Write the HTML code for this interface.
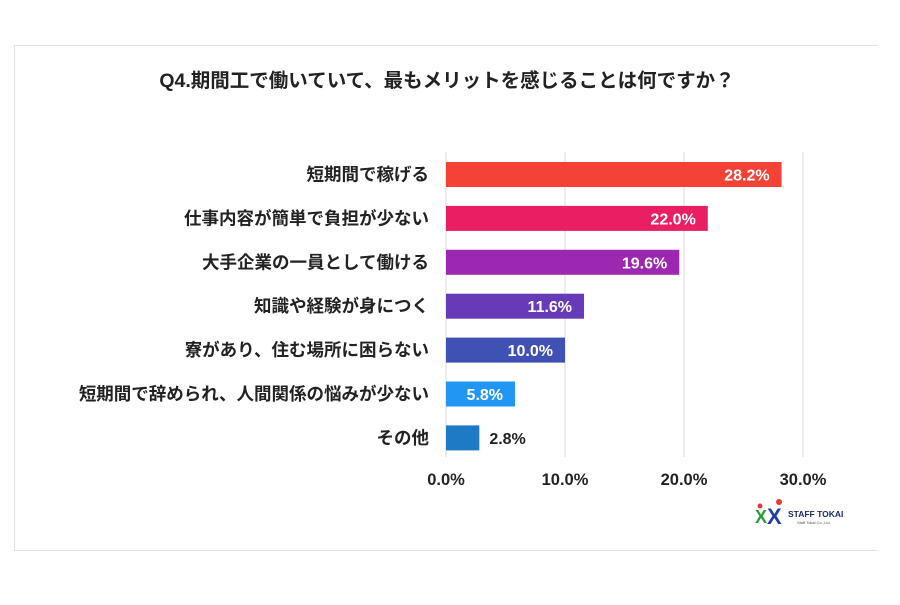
<!DOCTYPE html>
<html><head><meta charset="utf-8"><style>
body{margin:0;background:#fff;width:900px;height:600px;overflow:hidden}
svg{font-family:"Liberation Sans","Noto Sans CJK JP",sans-serif}
</style></head><body>
<svg id="c" width="900" height="600">
<path d="M878 45.5 H14.5 V550.5 H878" fill="#fff" stroke="#e2e2e2"/>
<text x="447" y="87" text-anchor="middle" font-size="19.5" font-weight="bold" fill="#222">Q4.期間工で働いていて、最もメリットを感じることは何ですか？</text>
<g id="grid"></g><g id="bars"></g><g id="ticks"></g>
<g>
<text x="755" y="523" font-size="18" font-weight="bold" fill="#2a9d3a">X</text>
<text x="767" y="524" font-size="22" font-weight="bold" fill="#1f3fa8">X</text>
<circle cx="760" cy="506" r="2.5" fill="#e53935"/><circle cx="779" cy="502" r="3" fill="#e53935"/>
<text x="788" y="517" font-size="8.5" font-weight="bold" fill="#1a2a6c">STAFF TOKAI</text>
<text x="797" y="524" font-size="4" fill="#555">Staff Tokai Co.,Ltd.</text>
</g>
</svg>
<script>
const categories=["短期間で稼げる","仕事内容が簡単で負担が少ない","大手企業の一員として働ける","知識や経験が身につく","寮があり、住む場所に困らない","短期間で辞められ、人間関係の悩みが少ない","その他"];
const values=[28.2,22.0,19.6,11.6,10.0,5.8,2.8];
const colors=["#f44336","#e91e63","#9c27b0","#673ab7","#3f51b5","#2196f3","#1e7ac4"];
const tickValues=[0,10,20,30];
const tickLabels=["0.0%","10.0%","20.0%","30.0%"];
const NS="http://www.w3.org/2000/svg";
const x=v=>446+v*11.9;
const y=i=>162+i*43.9;
const bh=25;
function mk(t,a,p){const e=document.createElementNS(NS,t);for(const k in a)e.setAttribute(k,a[k]);p.appendChild(e);return e;}
const grid=document.getElementById('grid'),bars=document.getElementById('bars'),ticks=document.getElementById('ticks');
tickValues.forEach((v,i)=>{
 const l=mk('line',{x1:x(v),x2:x(v),y1:152,y2:457,stroke:'#d9d9d9','stroke-width':1},grid);
 
 
 const t=mk('text',{x:x(v),y:485,'text-anchor':'middle','font-size':16.5,'font-weight':'bold',fill:'#222'},ticks);
 t.textContent=tickLabels[i];
 
 
});
categories.forEach((c,i)=>{
 const r=mk('rect',{x:x(0),y:y(i),width:x(values[i])-x(0),height:bh,fill:colors[i]},bars);
 
 
 const lab=mk('text',{x:429,y:y(i)+bh/2+6,'text-anchor':'end','font-size':17.5,'font-weight':'bold',fill:'#222'},bars);
 lab.textContent=c;
 
 
 const inside=values[i]>5;
 const vl=mk('text',{x:inside?x(values[i])-12:x(values[i])+10,y:y(i)+bh/2+6,'text-anchor':inside?'end':'start','font-size':16,'font-weight':'bold',fill:inside?'#fff':'#222'},bars);
 vl.textContent=values[i].toFixed(1)+'%';
 
 
});
</script>
</body></html>
